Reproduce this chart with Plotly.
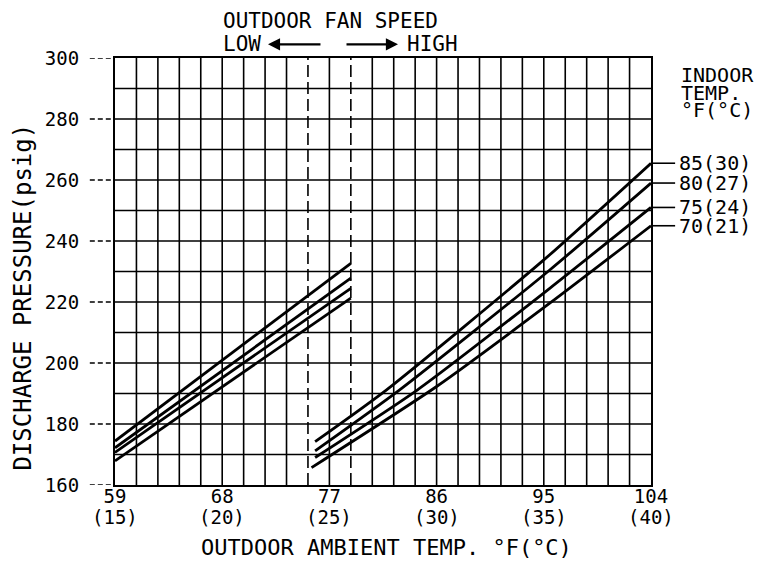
import plotly.graph_objects as go

# ---------------- data ----------------
TICK_F = [59, 68, 77, 86, 95, 104]
TICK_F_TEXT = ["59", "68", "77", "86", "95", "104"]
TICK_C_TEXT = ["(15)", "(20)", "(25)", "(30)", "(35)", "(40)"]
Y_TICKS = [160, 180, 200, 220, 240, 260, 280, 300]

SERIES = ["85(30)", "80(27)", "75(24)", "70(21)"]

# low outdoor fan speed section
LOW_X = [59, 78.8]
LOW_85 = [174.4, 232.7]
LOW_80 = [172.2, 227.8]
LOW_75 = [170.7, 224.5]
LOW_70 = [167.9, 221.3]

# high outdoor fan speed section
HIGH_X_85 = [75.8, 81.8, 95.0, 104]
HIGH_Y_85 = [174.2, 191.2, 233.8, 265.5]
HIGH_X_80 = [75.8, 82.9, 95.5, 104]
HIGH_Y_80 = [171.2, 191.2, 230.5, 259.0]
HIGH_X_75 = [75.8, 84.4, 95.5, 104]
HIGH_Y_75 = [169.0, 191.2, 224.5, 251.0]
HIGH_X_70 = [75.5, 86.0, 95.5, 104]
HIGH_Y_70 = [165.7, 192.3, 219.6, 245.0]

FAN_SWITCH = [75.2, 78.8]   # dashed boundary lines

X_MIN, X_MAX, X_STEP = 59, 104, 1.8
Y_MIN, Y_MAX, Y_STEP = 160, 300, 10

FONT = "DejaVu Sans Mono"
LW = 2.8

fig = go.Figure()

low_sets = [LOW_85, LOW_80, LOW_75, LOW_70]
high_sets = [(HIGH_X_85, HIGH_Y_85), (HIGH_X_80, HIGH_Y_80),
             (HIGH_X_75, HIGH_Y_75), (HIGH_X_70, HIGH_Y_70)]

for name, ly, (hx, hy) in zip(SERIES, low_sets, high_sets):
    fig.add_trace(go.Scatter(x=LOW_X, y=ly, mode="lines", name=name,
                             line=dict(color="black", width=LW), showlegend=False))
    fig.add_trace(go.Scatter(x=hx, y=hy, mode="lines", name=name,
                             line=dict(color="black", width=LW, shape="spline", smoothing=0.6),
                             showlegend=False))

shapes = []
# vertical grid
n_cols = int(round((X_MAX - X_MIN) / X_STEP))
for k in range(1, n_cols):
    xv = X_MIN + k * X_STEP
    dashed = any(abs(xv - s) < 1e-6 for s in FAN_SWITCH)
    shapes.append(dict(type="line", xref="x", yref="paper", x0=xv, x1=xv, y0=0, y1=1,
                       layer="below",
                       line=dict(color="black", width=1.6, dash="12px,5px" if dashed else "solid")))
# horizontal grid
yv = Y_MIN + Y_STEP
while yv < Y_MAX:
    shapes.append(dict(type="line", xref="paper", yref="y", x0=0, x1=1, y0=yv, y1=yv,
                       layer="below", line=dict(color="black", width=1.6)))
    yv += Y_STEP
# dashed y tick marks
for t in Y_TICKS:
    shapes.append(dict(type="line", xref="paper", yref="y", x0=-0.047, x1=0, y0=t, y1=t,
                       line=dict(color="black", width=1.4, dash="5px,3px")))
# leader lines to series labels
for ly, (hx, hy) in zip(low_sets, high_sets):
    shapes.append(dict(type="line", xref="paper", yref="y", x0=1.0, x1=1.045,
                       y0=hy[-1], y1=hy[-1], line=dict(color="black", width=1.6)))

annotations = []
for name, (hx, hy) in zip(SERIES, high_sets):
    annotations.append(dict(text=name, xref="paper", yref="y", x=1.05, y=hy[-1],
                            xanchor="left", yanchor="middle", showarrow=False, borderpad=0,
                            font=dict(family=FONT, size=20, color="black")))
for xv, ct in zip(TICK_F, TICK_C_TEXT):
    annotations.append(dict(text=ct, xref="x", yref="paper", x=xv, y=-0.076,
                            xanchor="center", yanchor="middle", showarrow=False, borderpad=0,
                            font=dict(family=FONT, size=19, color="black")))
for txt, yy in [("INDOOR", 0.960), ("TEMP.", 0.918), ("°F(°C)", 0.878)]:
    annotations.append(dict(text=txt, xref="paper", yref="paper", x=1.054, y=yy,
                            xanchor="left", yanchor="middle", showarrow=False, borderpad=0,
                            font=dict(family=FONT, size=20, color="black")))
annotations += [
    dict(text="OUTDOOR FAN SPEED", xref="paper", yref="paper", x=0.1996, y=1.116,
         xanchor="left", yanchor="top", showarrow=False, borderpad=0,
         font=dict(family=FONT, size=21, color="black")),
    dict(text="LOW", xref="paper", yref="paper", x=0.1996, y=1.032,
         xanchor="left", yanchor="middle", showarrow=False, borderpad=0,
         font=dict(family=FONT, size=21, color="black")),
    dict(text="HIGH", xref="paper", yref="paper", x=0.543, y=1.032,
         xanchor="left", yanchor="middle", showarrow=False, borderpad=0,
         font=dict(family=FONT, size=21, color="black")),
    dict(text="", xref="paper", yref="paper", x=0.2854, y=1.032, ax=54, ay=0,
         showarrow=True, arrowhead=2, arrowsize=1.1, arrowwidth=2.2, arrowcolor="black"),
    dict(text="", xref="paper", yref="paper", x=(398 - 115) / 536, y=1.032, ax=-53, ay=0,
         showarrow=True, arrowhead=2, arrowsize=1.1, arrowwidth=2.2, arrowcolor="black"),
    dict(text="OUTDOOR AMBIENT TEMP. °F(°C)", xref="paper", yref="paper", x=0.5065, y=-0.147,
         xanchor="center", yanchor="middle", showarrow=False, borderpad=0,
         font=dict(family=FONT, size=22, color="black")),
    dict(text="DISCHARGE PRESSURE(psig)", xref="paper", yref="paper", x=-0.1716, y=0.439,
         xanchor="center", yanchor="middle", textangle=-90, showarrow=False, borderpad=0,
         font=dict(family=FONT, size=24, color="black")),
]

fig.update_layout(
    width=767, height=554,
    margin=dict(l=107, r=124, t=50, b=77),
    paper_bgcolor="white", plot_bgcolor="white",
    font=dict(family=FONT, color="black"),
    shapes=shapes, annotations=annotations,
    showlegend=False,
)
fig.update_xaxes(range=[X_MIN, X_MAX], tickvals=TICK_F, ticktext=TICK_F_TEXT,
                 showgrid=False, zeroline=False, showline=True, mirror=True,
                 linecolor="black", linewidth=2, ticks="", ticklabelstandoff=-7,
                 tickfont=dict(family=FONT, size=19, color="black"))
fig.update_yaxes(range=[Y_MIN, Y_MAX], tickvals=Y_TICKS,
                 showgrid=False, zeroline=False, showline=True, mirror=True,
                 linecolor="black", linewidth=2, ticks="outside", ticklen=30,
                 tickcolor="rgba(0,0,0,0)", tickfont=dict(family=FONT, size=19, color="black"))

fig.write_html("out.html")
